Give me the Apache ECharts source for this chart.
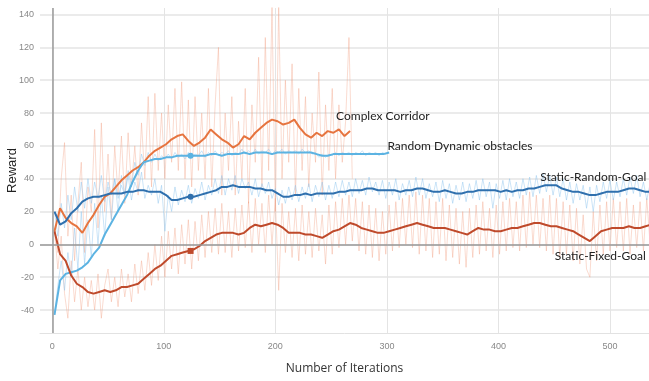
<!DOCTYPE html>
<html>
<head>
<meta charset="utf-8">
<title>Reward vs iterations</title>
<script src="https://cdn.jsdelivr.net/npm/echarts@6/dist/echarts.min.js"></script>
<style>
  html, body { margin: 0; padding: 0; background: #fff; }
  #chart { width: 649px; height: 381px; }
</style>
</head>
<body>
<div id="chart"></div>
<script>
// 刻度
const xTicks = [0, 100, 200, 300, 400, 500]
const yTicks = [-40, -20, 0, 20, 40, 60, 80, 100, 120, 140]

// 平滑曲线（每 5 次迭代读一个值，从第 2 次开始）
const smoothStart = 2
const smoothStep = 5
const complexCorridor = [8, 22, 16, 13, 11, 7, 13, 18, 24, 29, 31, 35, 39, 42, 45, 47, 50, 54, 57, 59, 61, 64, 66, 67, 63, 60, 62, 65, 70, 67, 64, 62, 59, 61, 66, 64, 68, 71, 74, 76, 75, 73, 74, 76, 71, 67, 65, 68, 66, 69, 68, 70, 66, 69]
const randomDynamic = [-43, -22, -18, -17, -16, -14, -11, -6, -2, 6, 12, 18, 24, 30, 38, 45, 50, 51, 52, 52, 53, 53, 54, 54, 54, 54, 54, 54, 55, 55, 54, 55, 55, 55, 56, 55, 56, 56, 56, 55, 56, 56, 56, 56, 56, 56, 56, 55, 54, 54, 55, 55, 55, 55, 55, 55, 55, 55, 55, 55, 56]
const staticRandomGoal = [20, 12, 14, 19, 22, 26, 28, 29, 29, 30, 31, 31, 31, 32, 32, 33, 33, 32, 32, 32, 30, 27, 27, 28, 29, 29, 30, 31, 32, 33, 35, 35, 36, 35, 35, 35, 34, 34, 33, 33, 31, 29, 29, 30, 30, 31, 30, 31, 31, 31, 31, 32, 32, 33, 33, 33, 34, 34, 33, 33, 33, 33, 32, 33, 33, 34, 34, 33, 32, 32, 33, 32, 31, 31, 32, 32, 33, 33, 33, 33, 32, 33, 32, 33, 33, 34, 34, 35, 36, 36, 36, 34, 33, 32, 32, 31, 30, 30, 31, 32, 32, 32, 33, 34, 34, 33, 32, 32]
const staticFixedGoal = [8, -6, -10, -19, -24, -26, -29, -30, -29, -28, -29, -28, -26, -26, -25, -24, -21, -18, -15, -13, -10, -7, -6, -5, -4, -3, -1, 2, 4, 6, 7, 7, 7, 6, 7, 10, 12, 11, 12, 13, 12, 10, 7, 7, 7, 6, 6, 5, 4, 6, 8, 9, 11, 13, 12, 10, 9, 8, 7, 7, 8, 9, 10, 11, 12, 13, 12, 11, 10, 10, 10, 9, 8, 7, 6, 8, 10, 9, 9, 8, 8, 9, 10, 10, 11, 12, 13, 13, 12, 11, 11, 10, 9, 8, 6, 4, 2, 5, 8, 9, 10, 10, 10, 11, 10, 10, 11, 12]

// 原始曲线（每 3 次迭代读一个值）
const rawStart = 2
const rawStep = 3
const complexCorridorRaw = [10, -5, 40, 62, 5, 30, -10, 25, 50, -5, 35, 20, 70, 10, 74, 20, 55, 15, 60, 30, 66, 25, 68, 35, 60, 30, 74, 40, 90, 35, 92, 45, 80, 40, 85, 50, 95, 45, 99, 40, 88, 35, 90, 45, 80, 40, 95, 35, 85, 120, 30, 80, 45, 90, 30, 75, 40, 95, 25, 85, 50, 114, 35, 126, 45, 145, 20, 145, 40, 100, 50, 110, 30, 95, 45, 90, 35, 80, 50, 105, 30, 85, 45, 95, 40, 85, 50, 75, 126, 40]
const randomDynamicRaw = [-43, -25, -10, -28, -5, -20, 10, -15, 20, -12, 15, -8, 25, 0, 30, 5, 35, 15, 40, 20, 42, 30, 45, 35, 50, 42, 55, 48, 56, 50, 55, 51, 54, 52, 55, 52, 56, 53, 55, 52, 56, 53, 55, 54, 57, 53, 56, 54, 57, 54, 56, 55, 57, 54, 56, 55, 58, 55, 57, 55, 58, 55, 57, 56, 58, 55, 57, 56, 58, 55, 57, 56, 57, 55, 58, 56, 57, 55, 56, 53, 55, 53, 55, 54, 56, 54, 56, 55, 56, 54, 56, 55, 57, 54, 56, 55, 56, 54, 56, 55, 56]
const staticRandomGoalRaw = [20, 5, 25, 10, 30, 15, 35, 20, 38, 22, 40, 25, 38, 28, 42, 26, 38, 30, 40, 28, 36, 30, 42, 27, 38, 32, 44, 28, 36, 30, 40, 25, 36, 8, 30, 20, 35, 24, 33, 26, 36, 25, 34, 28, 38, 27, 36, 30, 40, 31, 42, 30, 40, 33, 42, 31, 40, 34, 38, 30, 40, 29, 37, 31, 38, 28, 34, 24, 33, 25, 35, 27, 36, 26, 35, 28, 37, 26, 36, 29, 38, 27, 36, 28, 38, 29, 39, 30, 38, 29, 40, 31, 39, 30, 41, 32, 38, 30, 39, 28, 38, 30, 40, 27, 37, 30, 39, 29, 41, 30, 40, 28, 37, 29, 38, 26, 39, 28, 37, 25, 36, 27, 38, 26, 37, 28, 39, 27, 40, 29, 38, 22, 37, 28, 39, 27, 40, 29, 38, 28, 40, 30, 41, 29, 42, 31, 43, 32, 42, 30, 41, 29, 40, 27, 38, 25, 37, 27, 36, 22, 35, 20, 36, 26, 38, 28, 39, 27, 38, 29, 40, 30, 41, 31, 42, 29, 38, 27, 37]
const staticFixedGoalRaw = [8, -15, 5, -30, -45, -10, -35, -15, -40, -20, -38, -22, -40, -18, -45, -25, -15, -35, -20, -38, -15, -32, -18, -35, -12, -30, -10, -28, -5, -25, 0, -22, 5, -20, 8, -15, 10, -18, 12, -12, 15, -15, 14, -10, 18, -8, 20, -5, 22, -6, 25, -5, 20, -8, 22, -4, 24, -2, 26, -5, 28, 0, 25, -5, 30, 0, 28, -28, 25, -5, 20, -8, 22, -10, 24, -6, 20, -8, 22, -4, 18, -12, 24, -6, 26, -2, 28, 0, 30, 2, 28, -4, 26, -6, 24, -8, 22, -10, 20, -6, 24, -4, 26, -2, 28, 0, 30, -2, 32, -6, 30, -4, 28, -8, 26, -6, 28, -10, 24, -8, 22, -12, 20, -14, 22, -8, 24, -6, 26, -4, 22, -8, 24, -6, 26, -4, 28, -2, 26, -4, 30, -2, 32, 0, 30, -2, 28, -4, 30, -6, 28, -8, 26, -6, 24, -10, 22, -12, 18, -15, -20, 20, -10, 24, -6, 26, -4, 28, -2, 26, -4, 28, -6, 24, -2, 26, -4, 28, 0]

// 悬停标记点 [迭代, 值]
const hoverIter = 124
const hoverValues = [54, 29, -4]

// 曲线名称标注 [迭代, 值]
const seriesNames = ['Complex Corridor', 'Random Dynamic obstacles', 'Static-Random-Goal', 'Static-Fixed-Goal']
const nameAnchors = [[254, 78], [300, 60], [437, 41], [450, -7]]

const smoothColors = ['#e6743f', '#5cb3e2', '#2f70ae', '#bf4a2b']
const rawOrange = 'rgba(242, 160, 132, 0.38)'
const rawBlue = 'rgba(140, 196, 238, 0.45)'

const toPairs = (values, start, step) => values.map((v, i) => [start + i * step, v])

const rawLine = (name, values, color) => ({
  name,
  type: 'line',
  data: toPairs(values, rawStart, rawStep),
  showSymbol: false,
  silent: true,
  lineStyle: { color, width: 1 },
  z: 1
})

const smoothLine = (i, values, marker) => {
  const s = {
    name: seriesNames[i],
    type: 'line',
    data: toPairs(values, smoothStart, smoothStep),
    showSymbol: false,
    lineStyle: { color: smoothColors[i], width: 2 },
    itemStyle: { color: smoothColors[i] },
    z: 3,
    markPoint: {
      silent: true,
      data: [{
        coord: nameAnchors[i],
        symbol: 'circle',
        symbolSize: 1,
        itemStyle: { color: 'rgba(0,0,0,0)' },
        label: {
          show: true,
          position: 'right',
          distance: 0,
          formatter: seriesNames[i],
          color: '#222',
          fontFamily: 'Lato',
          fontSize: 12
        }
      }]
    }
  }
  if (marker !== undefined) {
    s.markPoint.data.push({
      coord: [hoverIter, marker],
      symbol: i === 3 ? 'rect' : 'circle',
      symbolSize: 6,
      itemStyle: { color: smoothColors[i] },
      label: { show: false }
    })
  }
  return s
}

const myChart = echarts.init(document.getElementById('chart'))

const option = {
  animation: false,
  grid: { left: 40, right: 0, top: 8, bottom: 48, containLabel: false, outerBoundsMode: 'none' },
  xAxis: {
    type: 'value',
    min: -11,
    max: 535,
    name: 'Number of Iterations',
    nameLocation: 'middle',
    nameGap: 30,
    nameMoveOverlap: false,
    nameTextStyle: { color: '#333', fontSize: 12, fontFamily: 'Open Sans' },
    axisLine: { show: true, onZero: false, lineStyle: { color: '#e2e2e2' } },
    axisTick: { show: false, customValues: xTicks },
    axisLabel: { customValues: xTicks, color: '#888', fontSize: 9, margin: 9 },
    splitLine: { show: true, lineStyle: { color: '#e4e4e4' } }
  },
  yAxis: {
    type: 'value',
    min: -54,
    max: 144,
    name: 'Reward',
    nameLocation: 'middle',
    nameGap: 21,
    nameMoveOverlap: false,
    nameTextStyle: { color: '#222', fontSize: 13, fontFamily: 'Liberation Sans' },
    axisLine: { show: false },
    axisTick: { show: false, customValues: yTicks },
    axisLabel: { customValues: yTicks, color: '#888', fontSize: 9, margin: 6 },
    splitLine: { show: true, lineStyle: { color: '#e4e4e4', width: 1.5 } }
  },
  series: [
    rawLine('Complex Corridor raw', complexCorridorRaw, rawOrange),
    rawLine('Static-Fixed-Goal raw', staticFixedGoalRaw, rawOrange),
    rawLine('Random Dynamic obstacles raw', randomDynamicRaw, rawBlue),
    rawLine('Static-Random-Goal raw', staticRandomGoalRaw, rawBlue),
    {
      name: 'zero lines',
      type: 'line',
      data: [],
      silent: true,
      markLine: {
        silent: true,
        symbol: 'none',
        label: { show: false },
        lineStyle: { color: '#9a9a9a', type: 'solid', width: 1.5 },
        data: [{ yAxis: 0 }, { xAxis: 0 }]
      },
      z: 2
    },
    smoothLine(0, complexCorridor),
    smoothLine(1, randomDynamic, hoverValues[0]),
    smoothLine(2, staticRandomGoal, hoverValues[1]),
    smoothLine(3, staticFixedGoal, hoverValues[2])
  ]
}

myChart.setOption(option)
</script>
</body>
</html>
